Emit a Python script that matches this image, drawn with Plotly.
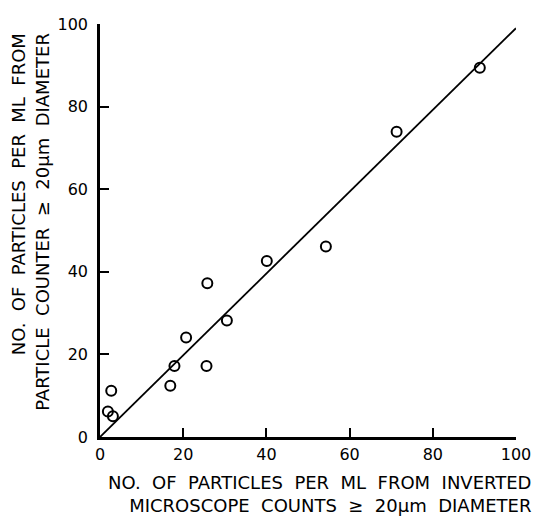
import plotly.graph_objects as go

# Data
microscope_counts = [2.7, 1.9, 3.1, 16.9, 17.9, 20.7, 25.6, 25.8, 30.5, 40.1, 54.3, 71.3, 91.3]
particle_counter = [11.2, 6.2, 5.0, 12.4, 17.2, 24.1, 17.2, 37.2, 28.2, 42.6, 46.1, 73.9, 89.4]
fit_x = [0, 100]
fit_y = [0, 99]
tick_vals = [0, 20, 40, 60, 80, 100]
tick_text = ["0", "20", "40", "60", "80", "100"]

FONT = "DejaVu Sans"
SP = "\u00a0\u00a0"  # wide word gaps as in the original lettering


def spaced(s):
    return s.replace(" ", SP)


x_title = spaced("NO. OF PARTICLES PER ML FROM INVERTED") + "<br>" + spaced("MICROSCOPE COUNTS ≥ 20μm DIAMETER")
y_title = spaced("NO. OF PARTICLES PER ML FROM") + "<br>" + spaced("PARTICLE COUNTER ≥ 20μm DIAMETER")

fig = go.Figure()
fig.add_trace(go.Scatter(x=fit_x, y=fit_y, mode="lines",
                         line=dict(color="black", width=1.8),
                         showlegend=False, hoverinfo="skip"))
fig.add_trace(go.Scatter(x=microscope_counts, y=particle_counter, mode="markers",
                         marker=dict(symbol="circle-open", size=10, color="black",
                                     line=dict(width=2, color="black")),
                         cliponaxis=False, showlegend=False))

axis_common = dict(range=[0, 100], tickvals=tick_vals, ticktext=tick_text,
                   showgrid=False, zeroline=False, showline=True,
                   linecolor="black", linewidth=2.5, ticks="inside",
                   ticklen=9, tickwidth=1.5, tickcolor="black",
                   ticklabeloverflow="allow",
                   tickfont=dict(family=FONT, size=16, color="black"))

fig.update_xaxes(**axis_common, ticklabelstandoff=1)
fig.update_yaxes(**axis_common, ticklabelstandoff=6)

# plot area: 416 px wide, 422 px tall
PW, PH = 416.0, 422.0
fig.add_annotation(xref="paper", yref="paper", x=433 / PW, y=-58.5 / PH,
                   xanchor="right", yanchor="middle", align="right", showarrow=False,
                   text=x_title,
                   font=dict(family=FONT, size=18, color="black"))
fig.add_annotation(xref="paper", yref="paper", x=-70 / PW, y=415 / PH,
                   xanchor="center", yanchor="top", align="right", showarrow=False,
                   textangle=-90,
                   text=y_title,
                   font=dict(family=FONT, size=18, color="black"))

# page body adds an 8 px margin, so the figure is 8 px smaller and shifted
fig.update_layout(width=533, height=510,
                  margin=dict(l=92, r=25, t=7, b=81),
                  plot_bgcolor="white", paper_bgcolor="white",
                  font=dict(family=FONT, color="black"))

fig.write_html("out.html")
